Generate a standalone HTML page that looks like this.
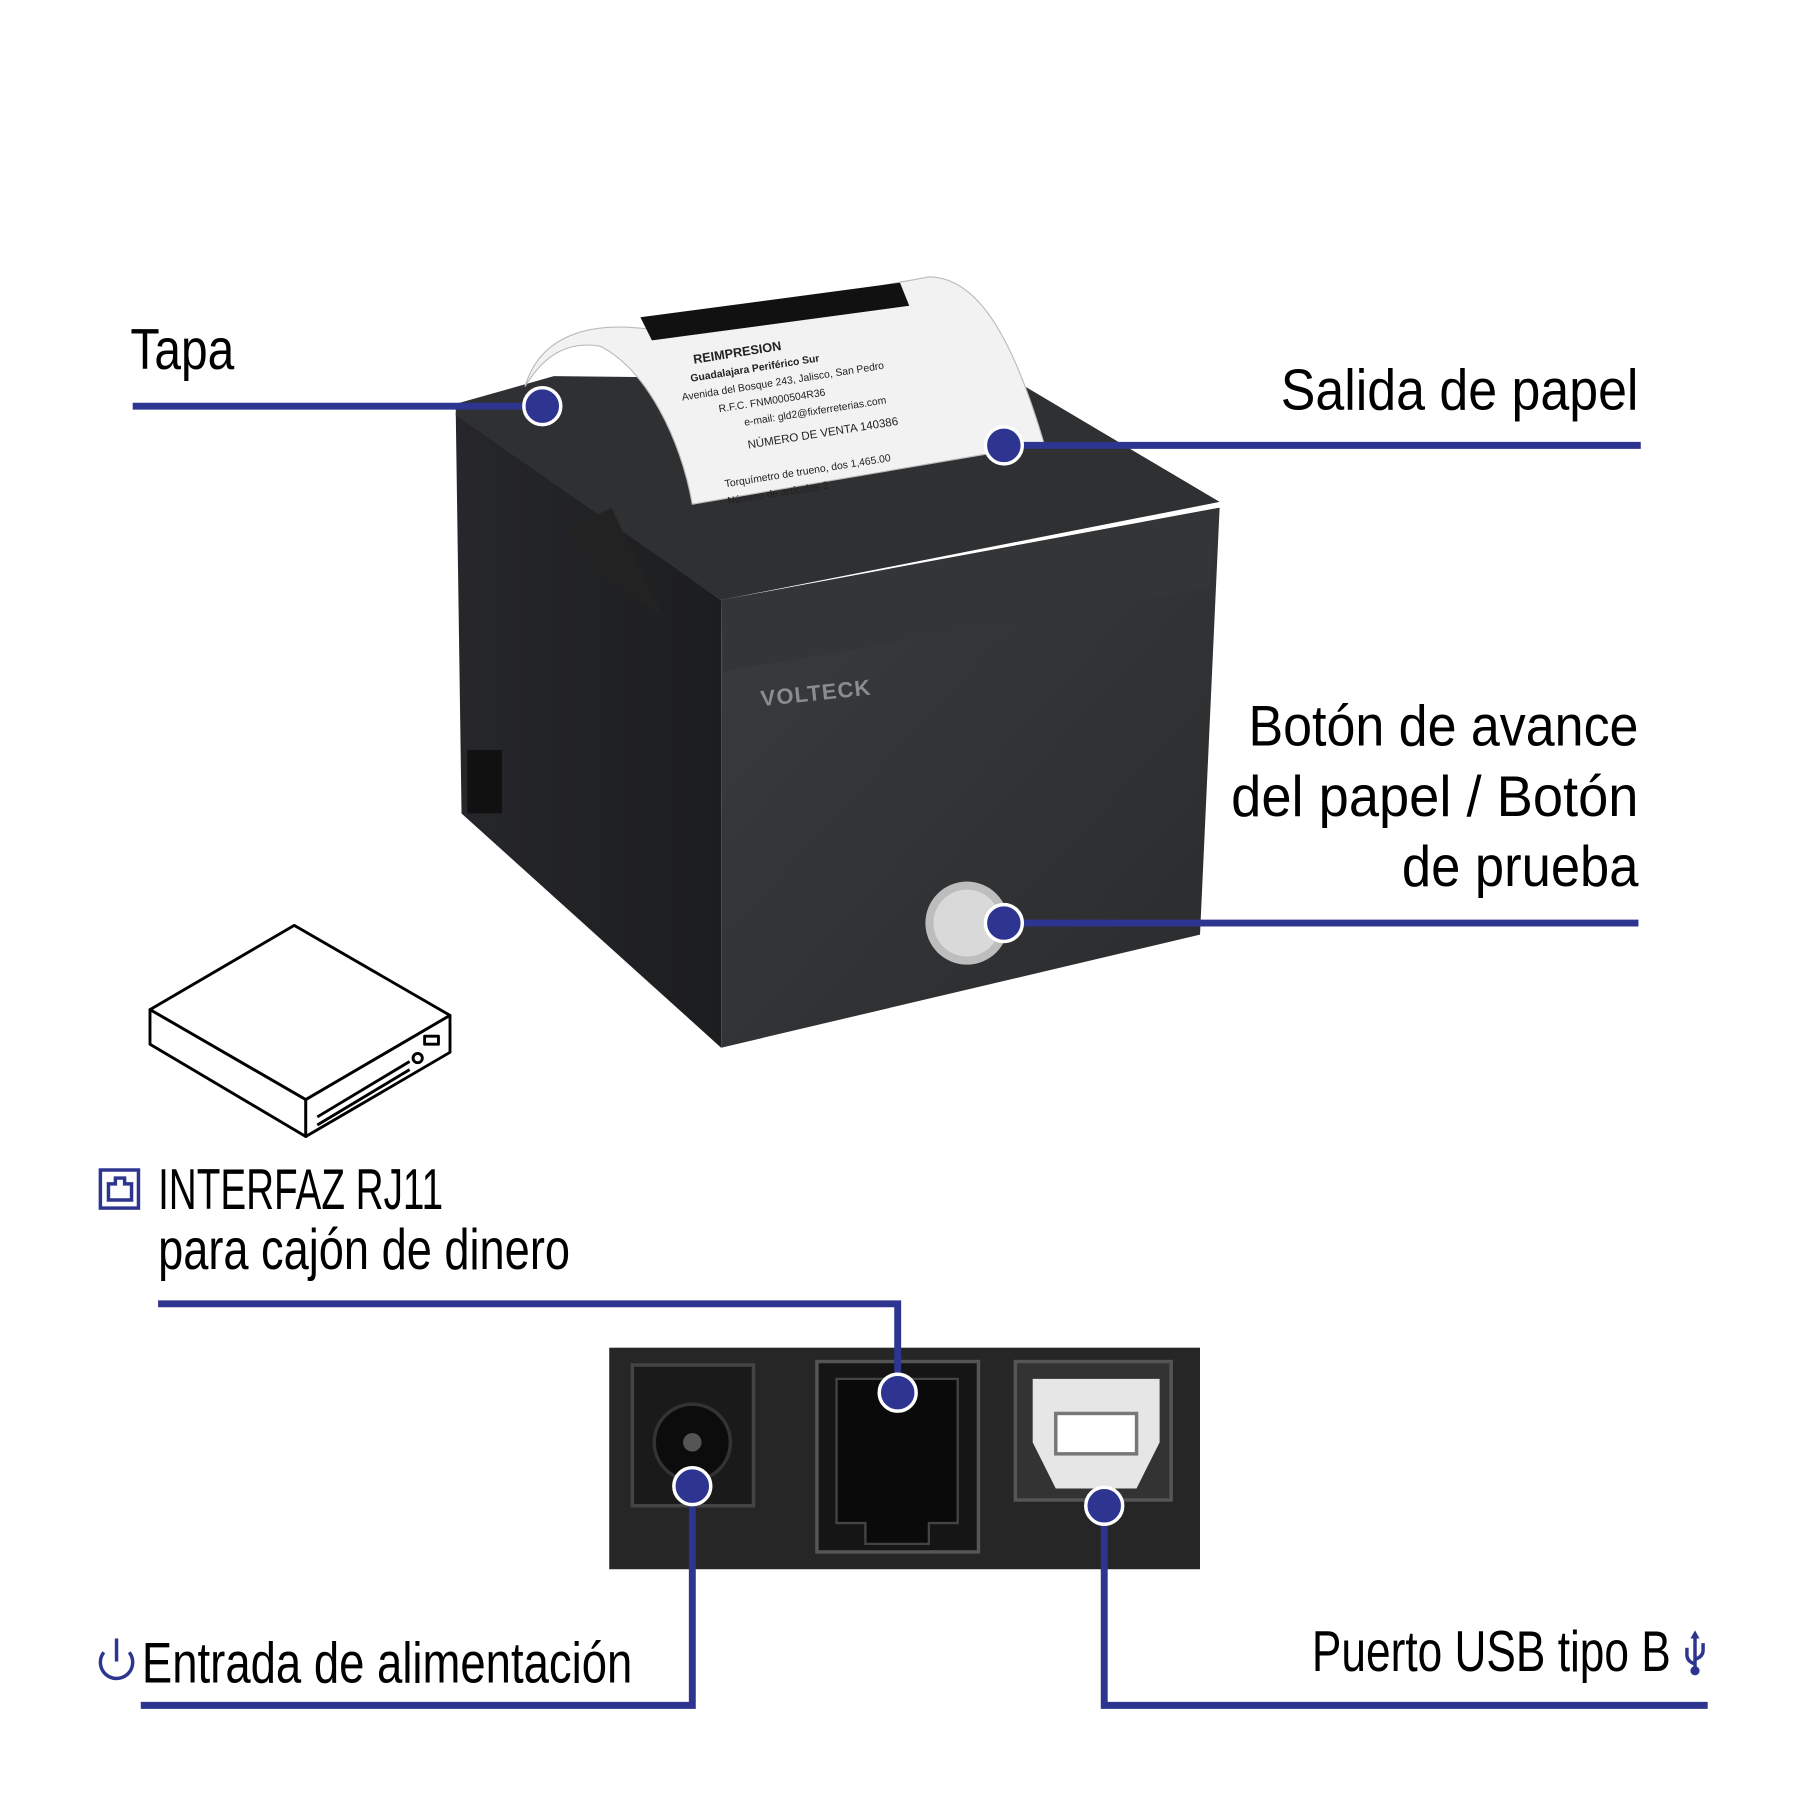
<!DOCTYPE html>
<html><head><meta charset="utf-8">
<style>
html,body{margin:0;padding:0;background:#fff;width:1800px;height:1800px;overflow:hidden}
#w{position:absolute;left:0;top:0;width:1560px;height:1560px;transform:scale(1.15385);transform-origin:0 0}
svg{position:absolute;left:0;top:0}
.t{font-family:"Liberation Sans",sans-serif;fill:#000;font-size:50px}
</style></head><body><div id="w">
<svg width="1560" height="1560" viewBox="0 0 1560 1560">
<defs>
<linearGradient id="fr" x1="0" y1="0" x2="1" y2="1"><stop offset="0" stop-color="#3a3c3e"/><stop offset="1" stop-color="#2a2b2d"/></linearGradient>
<linearGradient id="lf" x1="0" y1="0" x2="1" y2="0"><stop offset="0" stop-color="#26272a"/><stop offset="1" stop-color="#1c1d1f"/></linearGradient>
</defs>
<polygon points="395,358 625,520 625,908 400,705" fill="url(#lf)"/>
<polygon points="625,520 1057,440 1040,810 625,908" fill="url(#fr)"/>
<polygon points="625,520 1057,440 1047,510 627,582" fill="#333537"/>
<polygon points="395,350 480,326 880,330 1057,435 625,520 395,360" fill="#2f3032"/>
<path d="M405,650 h30 v55 h-30z" fill="#111"/>
<path d="M490,460 l40,-20 l45,95 l-45,-30z" fill="#222"/>
<path d="M455,335 C470,285 520,280 560,285 L805,240 C850,240 880,300 905,385 L600,437 C590,380 560,320 520,300 C490,295 470,310 455,335Z" fill="#f2f2f2" stroke="#bbb"/>
<path d="M555,275 L780,245 L788,265 L565,295Z" fill="#111"/>
<g font-family="Liberation Sans,sans-serif" font-size="9" fill="#222" transform="rotate(-9 700 330)">
<text x="605" y="300" font-weight="bold" font-size="11">REIMPRESION</text>
<text x="600" y="315" font-weight="bold">Guadalajara Periférico Sur</text>
<text x="590" y="330">Avenida del Bosque 243, Jalisco, San Pedro</text>
<text x="620" y="345">R.F.C. FNM000504R36</text>
<text x="640" y="360">e-mail: gld2@fixferreterias.com</text>
<text x="640" y="380" font-size="10">NÚMERO DE VENTA 140386</text>
<text x="615" y="410">Torquímetro de trueno, dos   1,465.00</text>
<text x="615" y="425">Número de artículos 2</text>
</g>
<text x="660" y="612" font-family="Liberation Sans,sans-serif" font-weight="bold" font-size="19" fill="#8a8c8e" transform="rotate(-6 660 612)" letter-spacing="1">VOLTECK</text>
<circle cx="838" cy="800" r="36" fill="#bdbdbd"/><circle cx="838" cy="800" r="29" fill="#d9d9d9"/>
<g fill="#fff" stroke="#000" stroke-width="2.5" stroke-linejoin="round">
<polygon points="130,875 255,802 390,880 265,953"/>
<polygon points="130,875 265,953 265,985 130,905"/>
<polygon points="265,953 390,880 390,912 265,985"/>
<line x1="275" y1="968" x2="355" y2="920"/>
<line x1="275" y1="975" x2="355" y2="927"/>
<circle cx="362" cy="917" r="4"/>
<rect x="368" y="898" width="12" height="7"/>
</g>
<rect x="528" y="1168" width="512" height="192" fill="#262626"/>
<rect x="548" y="1183" width="105" height="122" fill="#1a1a1a" stroke="#444" stroke-width="3"/>
<circle cx="600" cy="1250" r="33" fill="#0c0c0c" stroke="#333" stroke-width="3"/>
<circle cx="600" cy="1250" r="8" fill="#555"/>
<rect x="708" y="1180" width="140" height="165" fill="#151515" stroke="#555" stroke-width="3"/>
<path d="M725,1195 h105 v125 h-25 v18 h-55 v-18 h-25z" fill="#0a0a0a" stroke="#444" stroke-width="2"/>
<rect x="880" y="1180" width="135" height="120" fill="#333" stroke="#555" stroke-width="3"/>
<path d="M895,1195 h110 v55 l-20,40 h-70 l-20,-40z" fill="#e6e6e6"/>
<rect x="915" y="1225" width="70" height="35" fill="#fff" stroke="#777" stroke-width="3"/>
<g stroke="#2e3590" stroke-width="6" fill="none">
<line x1="115" y1="352" x2="470" y2="352"/>
<line x1="870" y1="386" x2="1422" y2="386"/>
<line x1="870" y1="800" x2="1420" y2="800"/>
<polyline points="137,1130 778,1130 778,1207"/>
<polyline points="600,1288 600,1478 122,1478"/>
<polyline points="957,1305 957,1478 1480,1478"/>
</g>
<g fill="#2e3590" stroke="#fff" stroke-width="3">
<circle cx="470" cy="352" r="16"/><circle cx="870" cy="386" r="16"/><circle cx="870" cy="800" r="16"/>
<circle cx="778" cy="1207" r="16"/><circle cx="600" cy="1288" r="16"/><circle cx="957" cy="1305" r="16"/>
</g>
<g stroke="#2e3590" stroke-width="3" fill="none">
<rect x="87" y="1014" width="33" height="33"/>
<path d="M94,1040 v-14 h6 v-5 h8 v5 h6 v14z"/>
<path d="M90,1432 a14,14 0 1 0 22,0"/><line x1="101" y1="1420" x2="101" y2="1440"/>
<path d="M1469,1418 v30 M1462,1428 v6 q0,6 7,8 M1476,1424 v6 q0,6 -7,8"/>
</g>
<circle cx="1469" cy="1448" r="4" fill="#2e3590"/>
<path d="M1465,1420 l4,-7 l4,7z" fill="#2e3590"/>
<text class="t" x="113" y="320" textLength="90" lengthAdjust="spacingAndGlyphs">Tapa</text>
<text class="t" x="1110" y="355" textLength="310" lengthAdjust="spacingAndGlyphs">Salida de papel</text>
<text class="t" x="1082" y="646" textLength="338" lengthAdjust="spacingAndGlyphs">Botón de avance</text>
<text class="t" x="1067" y="707" textLength="353" lengthAdjust="spacingAndGlyphs">del papel / Botón</text>
<text class="t" x="1215" y="768" textLength="205" lengthAdjust="spacingAndGlyphs">de prueba</text>
<text class="t" x="137" y="1048" font-size="44" textLength="247" lengthAdjust="spacingAndGlyphs">INTERFAZ RJ11</text>
<text class="t" x="137" y="1100" font-size="44" textLength="357" lengthAdjust="spacingAndGlyphs">para cajón de dinero</text>
<text class="t" x="123" y="1458" font-size="44" textLength="425" lengthAdjust="spacingAndGlyphs">Entrada de alimentación</text>
<text class="t" x="1137" y="1448" font-size="44" textLength="311" lengthAdjust="spacingAndGlyphs">Puerto USB tipo B</text>
</svg>
</div></body></html>
